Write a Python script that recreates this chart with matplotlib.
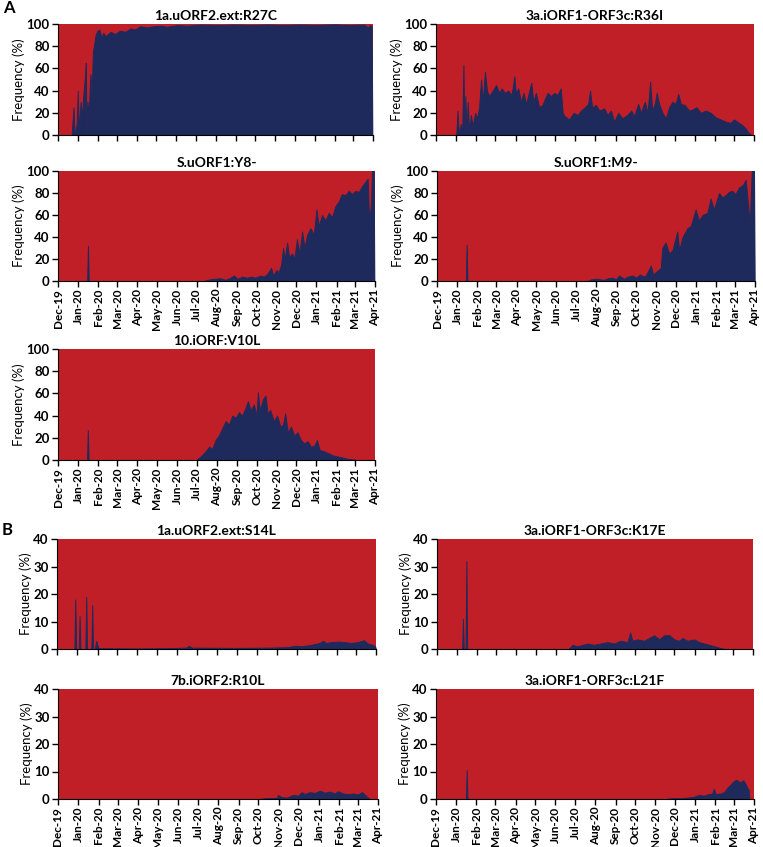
import matplotlib
matplotlib.use("Agg")
from matplotlib import pyplot as plt
import matplotlib.dates as mdates
import numpy as np
import pandas as pd

plt.rcParams['font.family'] = ['Lato', 'DejaVu Sans']

# day offsets from 1 Dec 2019, frequency in %
r27c_day = [0, 21, 24, 25.5, 29, 30.5, 32, 35, 37, 39, 42, 43, 44, 45.5, 47.5, 50, 52, 54, 56, 58, 61, 64, 67, 70, 74, 81,
            88, 96, 104, 112, 119, 127, 137.5, 148, 158, 168.5, 184, 199.5, 220, 250, 272, 300, 323.5, 350, 375, 400, 427,
            450, 473.5, 479, 483, 485, 486, 487]
r27c_freq = [0, 0, 25, 0, 10, 40, 5, 30, 15, 35, 55, 65, 0, 30, 20, 55, 40, 75, 82, 90, 94, 95, 88, 92, 89, 93,
             91, 94, 93, 96, 95, 98, 97, 98, 98.5, 97.5, 99, 98.5, 99.5, 99, 99.5, 99, 99.5, 99, 99.5, 99, 99.7,
             99, 99.5, 97, 99, 98, 0, 0]

r36i_day = [0, 31, 33, 35, 38, 40, 42, 43.5, 45, 46.5, 48.5, 50.5, 53.5, 56, 60, 63, 66, 69, 71.5, 75, 78, 81.6, 86.7,
            92, 97, 100.5, 105.6, 110.7, 115.8, 120, 122, 126, 130, 134, 138, 143, 146, 149, 153, 158, 163, 167, 171,
            176, 181, 186, 191, 194, 197, 204, 210.6, 216.8, 222, 228, 233, 236, 239, 245, 250, 257.5, 262.7, 267.8,
            273, 279, 285.6, 293, 299, 303.5, 309.6, 313.7, 319.8, 324, 328, 331, 335, 338, 341.7, 346.8, 352, 357,
            362, 367, 371, 375, 381, 387.6, 392.7, 399, 405.5, 413, 420.8, 428, 436, 443.7, 451, 456.5, 461.5, 469,
            474, 479, 483, 487]
r36i_freq = [0, 0, 22, 0, 10, 0, 63, 5, 35, 0, 30, 5, 18, 8, 20, 15, 25, 50, 30, 57, 40, 35, 40,
             45, 38, 42, 38, 40, 36, 53, 38, 42, 30, 38, 28, 40, 47, 30, 38, 25, 27, 33, 38,
             35, 38, 36, 42, 20, 17, 14, 20, 18, 22, 25, 28, 40, 25, 27, 22, 24, 18, 22,
             12, 20, 15, 18, 22, 17, 28, 20, 30, 20, 48, 22, 28, 38, 28, 20, 15, 25,
             30, 28, 37, 28, 27, 22, 23, 25, 20, 22, 20, 16, 14, 12, 11, 14, 12, 9,
             6, 2, 0, 0]

y8_day = [0, 44.8, 46, 47.2, 224, 229, 239.4, 249.7, 257, 265, 270, 276, 283, 290.6, 296.7, 303, 311, 316, 321, 327.4,
          330.5, 335.6, 339, 342.8, 345.8, 348.4, 352, 355, 359.6, 363, 367, 371, 375, 378.6, 382.7, 387.8, 393, 397,
          400.6, 405.7, 410.8, 416, 421, 426, 431, 436, 441.5, 446.6, 451.7, 456.9, 462, 467, 472, 475.8, 477.8, 481,
          482.4, 485, 486, 487]
y8_freq = [0, 0, 32, 0, 0, 1, 2, 2.5, 1, 3, 5, 2, 4, 3, 4, 3, 5, 4, 6, 12,
           5, 10, 8, 15, 30, 20, 35, 22, 25, 20, 38, 25, 45, 30, 42, 48, 42, 65,
           50, 60, 55, 62, 58, 68, 72, 79, 78, 82, 79, 82, 81, 86, 90, 93, 55, 70,
           100, 100, 0, 0]

m9_day = [0, 44.2, 45.4, 46.6, 230.5, 236, 245, 255, 262, 268.8, 274, 279, 286, 292, 299.4, 305, 311, 316, 319.8, 327.4,
          331, 335, 342.7, 345, 350, 355.5, 360.6, 368, 370.8, 376, 383.5, 388.6, 396, 401, 406.5, 414, 419, 424,
          432, 437, 442, 447, 452, 457, 462.6, 468, 472.8, 479, 482, 485.5, 486.5, 487]
m9_freq = [0, 0, 33, 0, 0, 1.5, 2, 1, 2.5, 3, 1.5, 5, 2, 4, 5, 3, 6, 4, 5, 14,
           6, 8, 12, 30, 35, 25, 28, 45, 28, 40, 48, 50, 65, 55, 60, 62, 75, 65,
           80, 76, 78, 81, 82, 79, 85, 87, 92, 52, 100, 100, 0, 0]

v10l_day = [0, 44.6, 45.8, 47, 211.7, 219, 227, 232, 237, 242, 247, 252, 257.6, 262.6, 267.8, 272.9, 278, 283, 288,
            291.7, 295.8, 301, 305, 307, 310, 315, 318.8, 322, 326, 331.5, 336.6, 341.7, 345.8, 349, 353, 358, 363,
            368, 373, 378, 383.5, 388.6, 393.7, 397.8, 402, 408, 415.7, 423, 431, 438.6, 446, 454, 459, 487]
v10l_freq = [0, 0, 27, 0, 0, 3, 8, 12, 10, 18, 22, 28, 35, 32, 40, 38, 43, 40, 47,
             53, 45, 50, 40, 61, 45, 55, 58, 42, 45, 35, 40, 30, 32, 42, 25, 30, 22,
             25, 18, 15, 17, 12, 13, 18, 9, 8, 6, 4, 3, 2, 1, 0.5, 0, 0]

s14l_day = [0, 26.6, 27.9, 29.2, 33.2, 34.5, 35.8, 43.3, 44.6, 45.9, 52.4, 53.7, 55, 57.8, 59.8, 63, 119.7, 170, 198,
            200.8, 206, 271.8, 322.5, 352.9, 363, 373, 388, 401, 406, 411, 418.8, 429, 439, 449, 459, 468.5, 474.5,
            482, 485.7, 486.7, 487]
s14l_freq = [0, 0, 18, 0, 0, 12, 0, 0, 19, 0, 0, 16, 0, 0, 3, 0.3, 0.2, 0.3, 0.5,
             1.2, 0.5, 0.4, 0.5, 0.7, 1.2, 1, 1.5, 2.2, 3, 2.2, 2.5, 2.7, 2.5, 2.2, 2.5, 3.2, 2,
             1.5, 1, 0, 0]

k17e_day = [0, 38.8, 40, 41.2, 44.1, 45.3, 46.5, 203, 208.6, 216, 224, 231.8, 242, 252, 262.7, 273, 283, 293.6, 297.7,
            301, 309, 319, 327, 334.8, 342.5, 350, 358, 365.7, 373, 378.5, 386, 396.5, 404, 412, 419.7, 427.5, 435,
            443, 487]
k17e_freq = [0, 0, 11, 0, 0, 32, 0, 0, 1.5, 1, 1.5, 2, 1.5, 2, 2.5, 2, 3, 2.5, 6,
             3, 3.5, 3, 4, 5, 3.5, 5, 5, 3.5, 3, 4, 3, 3.5, 2.5, 2, 1.5, 1, 0.5,
             0, 0]

r10l_day = [0, 307.5, 315, 332.8, 335, 340, 348, 353, 358, 365.6, 370.7, 375.7, 383, 391, 398.5, 406, 413.7, 421, 426,
            434, 441.5, 449, 456.6, 463, 468, 474, 487]
r10l_freq = [0, 0, 0.3, 0.4, 1.5, 0.7, 0.5, 1, 1.5, 1.2, 2.5, 1.8, 2.5, 2.2, 3, 2.3, 2.7, 2, 2.8,
             2, 1.8, 2, 1.7, 2.5, 1.3, 0, 0]

l21f_day = [0, 45.8, 47, 48.2, 354, 359, 374.6, 384.8, 395, 402.7, 410, 418, 423, 425.6, 428, 436, 441, 446, 451, 456,
            460, 465.5, 470.6, 474, 476.8, 478.8, 479.8, 487]
l21f_freq = [0, 0, 10.5, 0, 0, 0.3, 0.3, 0.5, 0.8, 1.5, 1.2, 1.8, 2, 3.8, 1.8, 2, 2.5, 4, 5.2, 6.5,
             7, 6, 6.8, 5.5, 4, 3.5, 0, 0]

titles = ['1a.uORF2.ext:R27C', '3a.iORF1-ORF3c:R36I', 'S.uORF1:Y8-', 'S.uORF1:M9-', '10.iORF:V10L',
          '1a.uORF2.ext:S14L', '3a.iORF1-ORF3c:K17E', '7b.iORF2:R10L', '3a.iORF1-ORF3c:L21F']
days = [r27c_day, r36i_day, y8_day, m9_day, v10l_day, s14l_day, k17e_day, r10l_day, l21f_day]
freqs = [r27c_freq, r36i_freq, y8_freq, m9_freq, v10l_freq, s14l_freq, k17e_freq, r10l_freq, l21f_freq]
ymax = [100, 100, 100, 100, 100, 40, 40, 40, 40]
show_xlabels = [False, False, True, True, True, False, False, True, True]

# axes boxes in pixels: left, top, right, bottom
boxes = [(58, 24, 373, 135), (436, 24, 754, 135),
         (58, 171, 375, 281), (437, 171, 755, 281),
         (58, 349, 375, 460),
         (57, 539, 376, 649), (437, 539, 753, 649),
         (58, 689, 378, 799), (436, 689, 754, 799)]

navy = '#1f2a5c'
red = '#c01f27'
W, H = 763, 847
start = pd.Timestamp('2019-12-01')
end = pd.Timestamp('2021-04-01')

fig = plt.figure(figsize=(W / 100, H / 100), dpi=100)

for i in range(9):
    l, t, r, b = boxes[i]
    ax = fig.add_axes([l / W, 1 - b / H, (r - l) / W, (b - t) / H])
    x = start + pd.to_timedelta(np.array(days[i]), unit='D')
    f = np.array(freqs[i], dtype=float)
    polys = ax.stackplot(x, f, 100 - f, colors=[navy, red], linewidth=0)
    polys[0].set_edgecolor(navy)
    polys[0].set_linewidth(0.7)
    polys[0].set_zorder(3)
    ax.set_facecolor(red)
    ax.set_xlim(start, end)
    ax.set_ylim(0, ymax[i])
    ax.set_yticks(np.arange(0, ymax[i] + 1, 20 if ymax[i] == 100 else 10))
    ax.xaxis.set_major_locator(mdates.MonthLocator())
    ax.xaxis.set_major_formatter(mdates.DateFormatter('%b-%y'))
    ax.tick_params(axis='both', direction='out', length=4, width=1, colors='black', pad=2)
    ax.tick_params(axis='x', pad=1.5)
    for lab in ax.get_yticklabels():
        lab.set_fontsize(9.5)
        lab.set_fontweight('bold')
    if show_xlabels[i]:
        for lab in ax.get_xticklabels():
            lab.set_rotation(90)
            lab.set_fontsize(8.5)
            lab.set_fontweight('bold')
    else:
        ax.set_xticklabels([])
    for side in ['top', 'right']:
        ax.spines[side].set_visible(False)
    for side in ['left', 'bottom']:
        ax.spines[side].set_zorder(5)
    ax.set_ylabel('Frequency (%)', fontsize=9.5, labelpad=1)
    ax.set_title(titles[i], fontsize=10, fontweight='bold', pad=3)

fig.text(3 / W, 1 - 13 / H, 'A', fontsize=12, fontweight='bold')
fig.text(2 / W, 1 - 535 / H, 'B', fontsize=12, fontweight='bold')

fig.savefig('out.png', dpi=100)
